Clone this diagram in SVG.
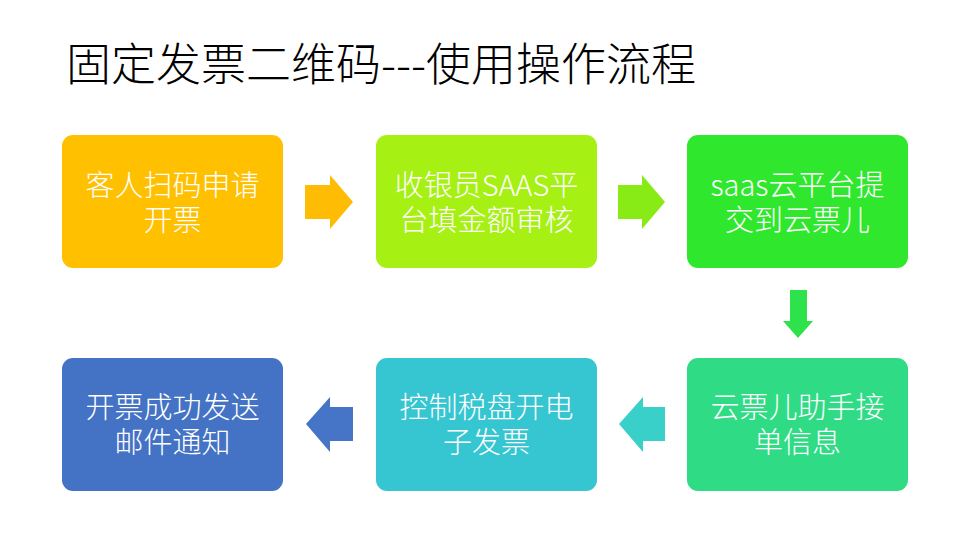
<svg xmlns="http://www.w3.org/2000/svg" width="968" height="534" viewBox="0 0 968 534">
<style>
.title{font-family:"Noto Sans CJK SC","Liberation Sans",sans-serif;font-size:45px;font-weight:300;fill:#000}
.lbl{font-family:"Noto Sans CJK SC","Liberation Sans",sans-serif;font-size:29px;font-weight:300;fill:#fff;text-anchor:middle}
</style>
<rect width="968" height="534" fill="#fff"/>
<text class="title" x="66" y="81">固定发票二维码---使用操作流程</text>
<g id="connectors">
<polygon points="305,185 330,185 330,175 353,202 330,229 330,219 305,219" fill="#FFBC05"/>
<polygon points="618,185 642,185 642,175 665,202 642,229 642,219 618,219" fill="#88EB16"/>
<polygon points="790,290 807,290 807,321 813,321 798,338 783,321 790,321" fill="#2EE24C"/>
<polygon points="665,407 643,407 643,397 619,424 643,452 643,441 665,441" fill="#38D0C9"/>
<polygon points="353,407 330,407 330,397 306,424 330,452 330,441 353,441" fill="#4674C6"/>
</g>
<g id="n1"><rect x="62" y="135" width="221" height="133" rx="11" fill="#FFC000"/>
<text class="lbl" x="172.5" y="196">客人扫码申请<tspan x="172.5" dy="35">开票</tspan></text></g>
<g id="n2"><rect x="376" y="135" width="221" height="133" rx="11" fill="#A6F014"/>
<text class="lbl" x="486.5" y="196">收银员SAAS平<tspan x="486.5" dy="35">台填金额审核</tspan></text></g>
<g id="n3"><rect x="687" y="135" width="221" height="133" rx="11" fill="#2FE82D"/>
<text class="lbl" x="797.5" y="196">saas云平台提<tspan x="797.5" dy="35">交到云票儿</tspan></text></g>
<g id="n4"><rect x="687" y="358" width="221" height="133" rx="11" fill="#2FDC85"/>
<text class="lbl" x="797.5" y="418">云票儿助手接<tspan x="797.5" dy="35">单信息</tspan></text></g>
<g id="n5"><rect x="376" y="358" width="221" height="133" rx="11" fill="#36C6D1"/>
<text class="lbl" x="486.5" y="418">控制税盘开电<tspan x="486.5" dy="35">子发票</tspan></text></g>
<g id="n6"><rect x="62" y="358" width="221" height="133" rx="11" fill="#4472C4"/>
<text class="lbl" x="172.5" y="418">开票成功发送<tspan x="172.5" dy="35">邮件通知</tspan></text></g>
</svg>
